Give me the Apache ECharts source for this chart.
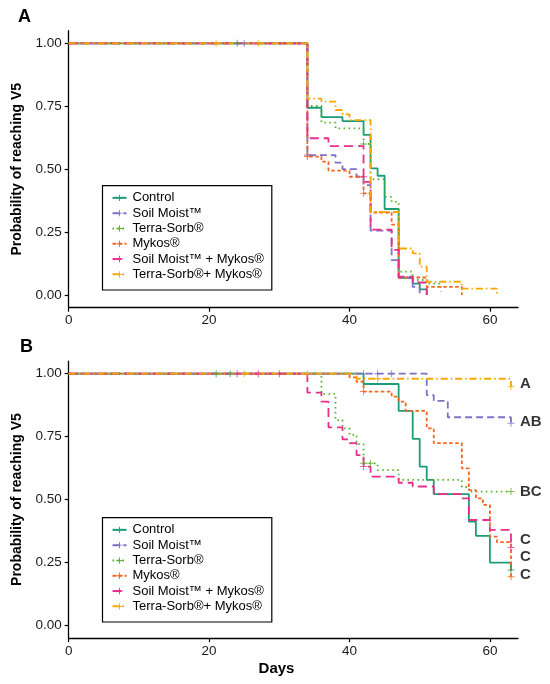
<!DOCTYPE html>
<html><head><meta charset="utf-8">
<script src="https://cdn.jsdelivr.net/npm/echarts@6/dist/echarts.min.js"></script>
<style>html,body{margin:0;padding:0;background:#fff}#c{width:550px;height:684px}</style>
</head><body><div id="c"></div>
<script>
// ---------- DATA ----------
const groups = ['Control','Soil Moist™','Terra-Sorb®','Mykos®','Soil Moist™ + Mykos®','Terra-Sorb®+ Mykos®'];
const xTicks = [0,20,40,60];
const yTicks = [0,0.25,0.5,0.75,1];

// Panel A (Kaplan-Meier steps: event day, survival after that day)
const A_control_t = [0,34,36,39,42,43,44,45,47,49,50,51];
const A_control_v = [1,0.744,0.707,0.691,0.636,0.503,0.474,0.342,0.069,0.046,0.023,0];
const A_soil_t = [0,34,38,39,41,42,43,46,47,49,50];
const A_soil_v = [1,0.556,0.526,0.50,0.47,0.437,0.256,0.139,0.069,0.033,0];
const A_terra_t = [0,34,36,38,42,43,45,46,47,49,51,53];
const A_terra_v = [1,0.751,0.685,0.662,0.60,0.46,0.39,0.37,0.093,0.06,0.046,0.013];
const A_mykos_t = [0,34,36,37,40,42,43,46,47,51,56];
const A_mykos_v = [1,0.55,0.53,0.494,0.47,0.404,0.328,0.28,0.07,0.033,0];
const A_smm_t = [0,34,37,42,43,46,47,49,51];
const A_smm_v = [1,0.623,0.592,0.45,0.26,0.18,0.073,0.05,0];
const A_tsm_t = [0,34,36,38,39,40,43,47,49,50,51,56,61];
const A_tsm_v = [1,0.78,0.768,0.735,0.718,0.695,0.33,0.185,0.166,0.113,0.053,0.026,0];

// Panel A censor marks [day, survival]
const A_control_c = [[24,1]];
const A_soil_c = [[25,1],[34,0.556]];
const A_terra_c = [[42,0.60]];
const A_mykos_c = [[34,0.55],[42,0.404]];
const A_smm_c = [[42,0.47]];
const A_tsm_c = [[21,1],[27,1]];

// Panel B
const B_control_t = [0,42,47,49,50,51,52,57,58,60,63];
const B_control_v = [1,0.959,0.852,0.741,0.631,0.578,0.522,0.413,0.356,0.25,0.22];
const B_soil_t = [0,51,52,54,63];
const B_soil_v = [1,0.915,0.892,0.827,0.803];
const B_terra_t = [0,36,38,39,40,41,42,44,47,56,57,63];
const B_terra_v = [1,0.92,0.816,0.783,0.757,0.72,0.644,0.617,0.578,0.55,0.532,0.532];
const B_mykos_t = [0,40,41,42,46,47,48,51,52,56,57,58,59,60,61,63];
const B_mykos_v = [1,0.985,0.968,0.929,0.909,0.889,0.852,0.783,0.724,0.624,0.538,0.505,0.479,0.353,0.331,0.194];
const B_smm_t = [0,34,36,37,39,40,41,42,43,47,49,52,56,57,60,63];
const B_smm_v = [1,0.925,0.889,0.787,0.739,0.724,0.677,0.631,0.591,0.567,0.552,0.522,0.505,0.419,0.38,0.31];
const B_tsm_t = [0,41,63];
const B_tsm_v = [1,0.98,0.948];

// Panel B censor marks
const B_control_c = [[21,1],[23,1],[63,0.22]];
const B_soil_c = [[42,1],[44,1],[46,1],[63,0.803]];
const B_terra_c = [[42,0.644],[43,0.644],[63,0.532]];
const B_mykos_c = [[42,0.929],[63,0.194]];
const B_smm_c = [[24,1],[27,1],[30,1],[42,0.631],[63,0.31]];
const B_tsm_c = [[25,1],[34,1],[44,0.98],[63,0.948]];

// Significance letters (panel B, right side)
const sigLetters = ['A','AB','BC','C','C','C'];
const sigDay = 63;
const sigY = [0.959,0.808,0.53,0.34,0.272,0.2];

// ---------- STYLE ----------
const colors = ['#1b9e77','#7b72c8','#55b02a','#f5651f','#ea2d8a','#f7a800'];
const dashes = ['solid',[7,4],[1.5,3.5],[3.5,2.5],[9,5],[7,3,1.5,3]];
const PLUS = 'path://M-0.14,-1H0.14V-0.14H1V0.14H0.14V1H-0.14V0.14H-1V-0.14H-0.14Z';
const FONT = 'Liberation Sans';

const A_t = [A_control_t,A_soil_t,A_terra_t,A_mykos_t,A_smm_t,A_tsm_t];
const A_v = [A_control_v,A_soil_v,A_terra_v,A_mykos_v,A_smm_v,A_tsm_v];
const A_c = [A_control_c,A_soil_c,A_terra_c,A_mykos_c,A_smm_c,A_tsm_c];
const B_t = [B_control_t,B_soil_t,B_terra_t,B_mykos_t,B_smm_t,B_tsm_t];
const B_v = [B_control_v,B_soil_v,B_terra_v,B_mykos_v,B_smm_v,B_tsm_v];
const B_c = [B_control_c,B_soil_c,B_terra_c,B_mykos_c,B_smm_c,B_tsm_c];

const series = [];
function addPanel(T, V, C, idx) {
  groups.forEach((g, i) => {
    series.push({
      type: 'line', name: g, xAxisIndex: idx, yAxisIndex: idx,
      step: 'end', data: T[i].map((t, k) => [t, V[i][k]]),
      showSymbol: false, symbol: PLUS, symbolSize: 7,
      color: colors[i],
      lineStyle: { color: colors[i], width: 1.8, type: dashes[i] },
      itemStyle: { color: colors[i] },
      silent: true, z: 2 + i
    });
    series.push({
      type: 'scatter', name: g + ' censor ' + idx, xAxisIndex: idx, yAxisIndex: idx,
      data: C[i], symbol: PLUS, symbolSize: 7, itemStyle: { color: colors[i] },
      silent: true, z: 10
    });
  });
}
addPanel(A_t, A_v, A_c, 0);
addPanel(B_t, B_v, B_c, 1);

series.push({
  type: 'scatter', name: 'sig', xAxisIndex: 1, yAxisIndex: 1,
  data: sigY.map((y, i) => ({ value: [sigDay, y], label: { formatter: sigLetters[i] } })),
  symbolSize: 0, silent: true,
  label: { show: true, position: 'right', distance: 9, fontFamily: FONT, fontWeight: 'bold', fontSize: 15, color: '#000' }
});

function xAxis(idx) {
  return {
    type: 'value', gridIndex: idx, min: 0, max: 64,
    axisLine: { onZero: false, lineStyle: { color: '#000', width: 1.3 } },
    axisTick: { customValues: xTicks, length: 4, lineStyle: { color: '#000', width: 1.2 } },
    axisLabel: { customValues: xTicks, margin: 6, fontFamily: FONT, fontSize: 13.5, color: '#1a1a1a' },
    splitLine: { show: false }
  };
}
function yAxis(idx) {
  return {
    type: 'value', gridIndex: idx, min: -0.05, max: 1.05,
    axisLine: { onZero: false, show: true, lineStyle: { color: '#000', width: 1.3 } },
    axisTick: { show: true, customValues: yTicks, length: 4, lineStyle: { color: '#000', width: 1.2 } },
    axisLabel: { customValues: yTicks, margin: 7, fontFamily: FONT, fontSize: 13.5, color: '#1a1a1a',
      formatter: v => v.toFixed(2) },
    splitLine: { show: false },
    name: 'Probability of reaching V5', nameLocation: 'middle', nameGap: 37,
    nameTextStyle: { fontFamily: FONT, fontWeight: 'bold', fontSize: 14, color: '#000' }
  };
}
function legend(top) {
  return {
    data: groups, orient: 'vertical', left: 102.5, top: top,
    borderColor: '#000', borderWidth: 1.2, padding: [4.5, 8, 8, 9],
    itemWidth: 14, itemHeight: 8, itemGap: 0,
    textStyle: { fontFamily: FONT, fontSize: 13, color: '#000', lineHeight: 15.3, padding: [0, 0, 0, 1] },
    selectedMode: false
  };
}

const chart = echarts.init(document.getElementById('c'), null, { renderer: 'canvas' });
chart.setOption({
  animation: false,
  backgroundColor: '#fff',
  grid: [
    { left: 68.7, right: 32, top: 30.7, height: 277, containLabel: false },
    { left: 68.7, right: 32, top: 361.1, height: 277, containLabel: false }
  ],
  xAxis: [xAxis(0), xAxis(1)],
  yAxis: [yAxis(0), yAxis(1)],
  legend: [legend(185.7), legend(517.7)],
  graphic: [
    { type: 'text', left: 18, top: 8, style: { text: 'A', font: 'bold 18px "Liberation Sans"', fill: '#000' } },
    { type: 'text', left: 20, top: 338, style: { text: 'B', font: 'bold 18px "Liberation Sans"', fill: '#000' } },
    { type: 'text', x: 276.5, y: 661, style: { text: 'Days', font: 'bold 15px "Liberation Sans"', fill: '#000', align: 'center', verticalAlign: 'top' } }
  ],
  series: series
});
</script>
</body></html>
